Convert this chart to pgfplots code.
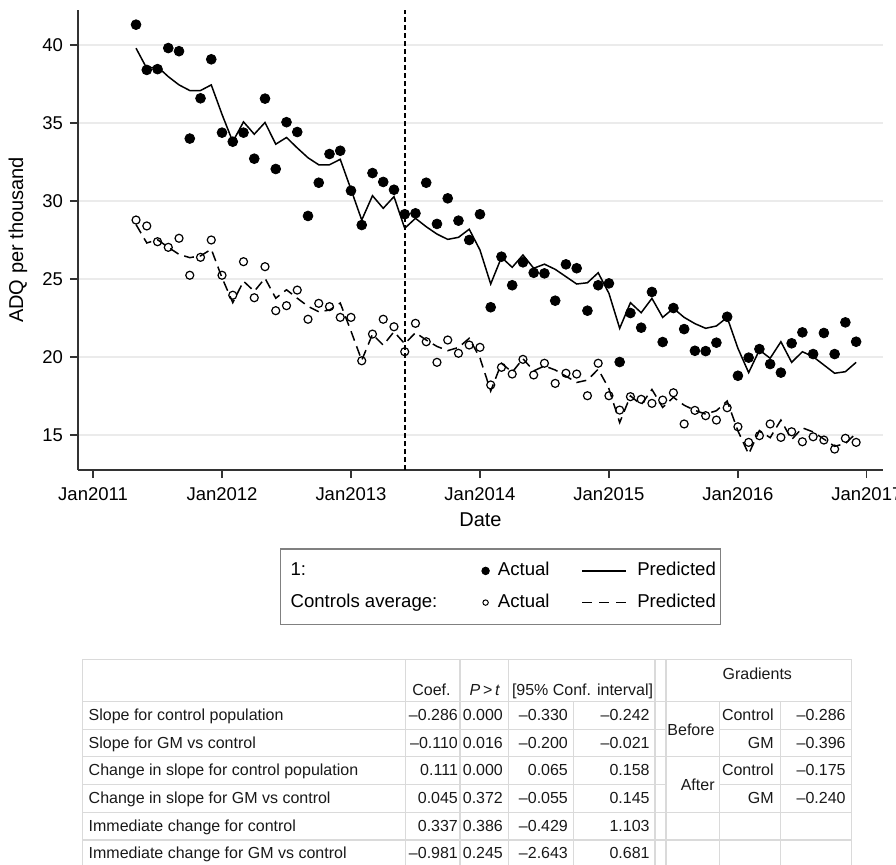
\documentclass[border=0pt]{standalone}
\usepackage{fontspec}
\setmainfont{Liberation Sans}
\usepackage{pgfplots}
\pgfplotsset{compat=1.18}
\usepackage{pgfplotstable}

\definecolor{gridc}{HTML}{EBEBEB}
\definecolor{tabc}{HTML}{DADADA}
\definecolor{axc}{HTML}{333333}
\definecolor{legc}{HTML}{808080}
\newcommand{\m}{\textendash}

\pgfplotsset{
  markleg/.style={legend image code/.code={\path[draw=none,fill=none] (-3.5pt,-0.05pt) rectangle (6.15pt,0.05pt); \draw[##1] plot coordinates {(0pt,0pt)};}},
  lineleg/.style={legend image code/.code={\draw[##1] (0pt,0pt) -- (22pt,0pt); \path[draw=none,fill=none] (27.5pt,-0.05pt) rectangle (27.4pt,0.05pt);}},
  noleg/.style={legend image code/.code={}},
}

\pgfplotstableread{
x gm gmp ct ctp
4 41.30 39.79 28.78 28.49
5 38.40 38.50 28.40 27.31
6 38.45 38.60 27.39 27.52
7 39.80 37.97 27.03 27.03
8 39.60 37.44 27.61 26.58
9 34.00 37.08 25.24 26.37
10 36.58 37.08 26.39 26.48
11 39.08 37.44 27.50 26.91
12 34.38 35.55 25.24 25.08
13 33.80 33.80 23.96 23.49
14 34.38 35.07 26.11 24.86
15 32.71 34.28 23.80 24.21
16 36.56 35.03 25.79 25.05
17 32.05 33.64 22.97 23.77
18 35.05 34.07 23.29 24.31
19 34.42 33.40 24.29 23.77
20 29.04 32.77 22.42 23.25
21 31.17 32.32 23.44 22.90
22 33.01 32.32 23.23 23.01
23 33.22 32.67 22.54 23.46
24 30.66 30.74 22.54 21.66
25 28.46 28.78 19.76 19.79
26 31.79 30.34 21.47 21.46
27 31.22 29.53 22.42 20.76
28 30.72 30.28 21.94 21.62
29 29.15 28.25 20.34 20.85
30 29.21 28.89 22.16 21.56
31 31.17 28.35 20.98 21.09
32 28.53 27.88 19.66 20.68
33 30.17 27.54 21.09 20.41
34 28.74 27.67 20.24 20.61
35 27.50 28.19 20.77 21.20
36 29.15 26.86 20.62 19.94
37 23.19 24.68 18.21 17.82
38 26.43 26.39 19.34 19.60
39 24.60 25.75 18.91 19.03
40 26.07 26.54 19.85 19.89
41 25.40 25.69 18.85 19.11
42 25.36 25.95 19.60 19.43
43 23.61 25.62 18.31 19.17
44 25.94 25.15 18.96 18.77
45 25.69 24.68 18.91 18.37
46 22.97 24.76 17.52 18.52
47 24.60 25.40 19.60 19.22
48 24.72 24.08 17.52 17.97
49 19.68 21.84 16.60 15.80
50 22.82 23.48 17.46 17.51
51 21.88 22.84 17.29 16.94
52 24.17 23.76 17.03 17.92
53 20.96 22.54 17.24 16.77
54 23.14 23.12 17.71 17.42
55 21.79 22.54 15.71 16.91
56 20.40 22.14 16.58 16.58
57 20.38 21.84 16.24 16.34
58 20.92 21.99 15.96 16.56
59 22.58 22.54 16.75 17.18
60 18.80 20.56 15.53 15.27
61 19.96 19.00 14.53 13.78
62 20.51 20.45 14.96 15.29
63 19.55 19.92 15.71 14.83
64 19.00 20.98 14.85 15.96
65 20.88 19.66 15.21 14.71
66 21.58 20.34 14.57 15.46
67 20.19 20.02 14.89 15.20
68 21.54 19.49 14.68 14.74
69 20.19 18.96 14.10 14.28
70 22.22 19.06 14.79 14.45
71 20.98 19.66 14.53 15.12
}\data

\pgfplotstableread{
x y
29 12.76
29 42.24
}\refline

\begin{document}
\begin{tikzpicture}
\begin{axis}[
  at={(39pt,197pt)}, anchor=south west,
  scale only axis, width=402.5pt, height=230pt,
  xmin=-1.4, xmax=73.5, ymin=12.76, ymax=42.24,
  enlargelimits=false,
  axis x line*=bottom, axis y line*=left,
  axis line style={axc, line width=0.6pt, -},
  tick style={axc, line width=0.6pt},
  tick align=outside, major tick length=4pt,
  xtick={0,12,24,36,48,60,72},
  xticklabels={Jan2011,Jan2012,Jan2013,Jan2014,Jan2015,Jan2016,Jan2017},
  ytick={15,20,25,30,35,40},
  ymajorgrids, grid style={gridc, line width=0.75pt},
  /pgf/number format/assume math mode=true,
  ticklabel style={font=\fontsize{9.25}{11}\selectfont, text=black},
  xticklabel style={yshift=-1.5pt},
  label style={font=\fontsize{9.25}{11}\selectfont},
  ylabel={ADQ per thousand}, xlabel={Date},
  every axis y label/.style={at={(axis description cs:-0.0745,0.5)}, rotate=90, anchor=center},
  every axis x label/.style={at={(axis description cs:0.50,-0.1087)}, anchor=center},
  legend columns=3,
  legend style={at={(axis description cs:0.25093,-0.17022)}, anchor=north west,
    draw=legc, line width=0.6pt, inner xsep=0pt, inner ysep=6.65pt,
    column sep=0pt, row sep=7.15pt,
    nodes={inner sep=0pt, text height=6.7pt, text depth=2pt},
    font=\fontsize{9.3}{11}\selectfont},
]
\addplot[forget plot, black, line width=0.85pt, dash pattern=on 2.4pt off 1.6pt] table[x=x,y=y]{\refline};
\addplot[forget plot, only marks, mark=*, mark size=2.45pt, black] table[x=x,y=gm]{\data};
\addplot[forget plot, black, line width=0.75pt, mark=none] table[x=x,y=gmp]{\data};
\addplot[forget plot, only marks, mark=o, mark size=2.0pt, black, mark options={line width=0.6pt}] table[x=x,y=ct]{\data};
\addplot[forget plot, black, line width=0.75pt, mark=none, dash pattern=on 5pt off 3pt] table[x=x,y=ctp]{\data};

\addlegendimage{noleg}
\addlegendentry{\makebox[99pt][l]{\hspace{5pt}1:}}
\addlegendimage{only marks, mark=*, mark size=1.8pt, black, markleg}
\addlegendentry{\makebox[41.85pt][l]{Actual}}
\addlegendimage{black, line width=0.7pt, lineleg}
\addlegendentry{\makebox[41.65pt][l]{Predicted}}
\addlegendimage{noleg}
\addlegendentry{\makebox[99pt][l]{\hspace{5pt}Controls average:}}
\addlegendimage{only marks, mark=o, mark size=1.35pt, black, mark options={line width=0.5pt}, markleg}
\addlegendentry{\makebox[41.85pt][l]{Actual}}
\addlegendimage{black, line width=0.7pt, dash pattern=on 5pt off 3.5pt, lineleg}
\addlegendentry{\makebox[41.65pt][l]{Predicted}}
\end{axis}

% ---------- table ----------
\begin{scope}[tabc, line width=0.75pt]
\draw (41.35pt,102.35pt) -- (425.85pt,102.35pt);
\draw (41.35pt,81.15pt) -- (425.85pt,81.15pt);
\draw (41.35pt,67.35pt) -- (333pt,67.35pt);
\draw (359.65pt,67.35pt) -- (425.85pt,67.35pt);
\draw (41.35pt,53.65pt) -- (425.85pt,53.65pt);
\draw (41.35pt,39.85pt) -- (333pt,39.85pt);
\draw (359.65pt,39.85pt) -- (425.85pt,39.85pt);
\draw (41.35pt,25.85pt) -- (425.85pt,25.85pt);
\draw (41.35pt,12pt) -- (425.85pt,12pt);
\draw (41.35pt,102.35pt) -- (41.35pt,-5pt);
\draw (202.85pt,102.35pt) -- (202.85pt,-5pt);
\draw (230pt,102.35pt) -- (230pt,-5pt);
\draw (254.15pt,102.35pt) -- (254.15pt,-5pt);
\draw (286.65pt,81.15pt) -- (286.65pt,-5pt);
\draw (327.5pt,102.35pt) -- (327.5pt,-5pt);
\draw (333pt,102.35pt) -- (333pt,-5pt);
\draw (359.65pt,81.15pt) -- (359.65pt,-5pt);
\draw (390.35pt,81.15pt) -- (390.35pt,-5pt);
\draw (425.85pt,102.35pt) -- (425.85pt,-5pt);
\end{scope}

\begin{scope}[every node/.style={inner sep=0pt, font=\fontsize{8}{9.6}\selectfont, text=black!90}]
\node[anchor=base west] at (206pt,84.13pt) {Coef.};
\node[anchor=base west] at (234.65pt,84.13pt) {\textit{P}\,>\,\textit{t}};
\node[anchor=base west] at (255.8pt,84.13pt) {[95\% Conf. interval]};
\node[anchor=base] at (378.65pt,92.48pt) {Gradients};
\node[anchor=base east] at (357.5pt,64.48pt) {Before};
\node[anchor=base east] at (357.5pt,36.98pt) {After};
\node[anchor=base east] at (387pt,71.98pt) {Control};
\node[anchor=base east] at (387pt,57.88pt) {GM};
\node[anchor=base east] at (387pt,44.13pt) {Control};
\node[anchor=base east] at (387pt,30.03pt) {GM};
\node[anchor=base east] at (423pt,71.98pt) {\m0.286};
\node[anchor=base east] at (423pt,57.88pt) {\m0.396};
\node[anchor=base east] at (423pt,44.13pt) {\m0.175};
\node[anchor=base east] at (423pt,30.03pt) {\m0.240};
\foreach \lab/\c/\p/\lo/\hi/\y in {
  Slope for control population/{\m0.286}/0.000/{\m0.330}/{\m0.242}/71.98,
  Slope for GM vs control/{\m0.110}/0.016/{\m0.200}/{\m0.021}/57.88,
  Change in slope for control population/0.111/0.000/0.065/0.158/44.13,
  Change in slope for GM vs control/0.045/0.372/{\m0.055}/0.145/30.03,
  Immediate change for control/0.337/0.386/{\m0.429}/1.103/16.13,
  Immediate change for GM vs control/{\m0.981}/0.245/{\m2.643}/0.681/2.78}{
  \node[anchor=base west] at (44.15pt,\y pt) {\lab};
  \node[anchor=base east] at (229.15pt,\y pt) {\c};
  \node[anchor=base east] at (251.65pt,\y pt) {\p};
  \node[anchor=base east] at (284.15pt,\y pt) {\lo};
  \node[anchor=base east] at (325pt,\y pt) {\hi};
}
\end{scope}

\pgfresetboundingbox
\useasboundingbox (0pt,0pt) rectangle (448pt,432pt);
\end{tikzpicture}
\end{document}
